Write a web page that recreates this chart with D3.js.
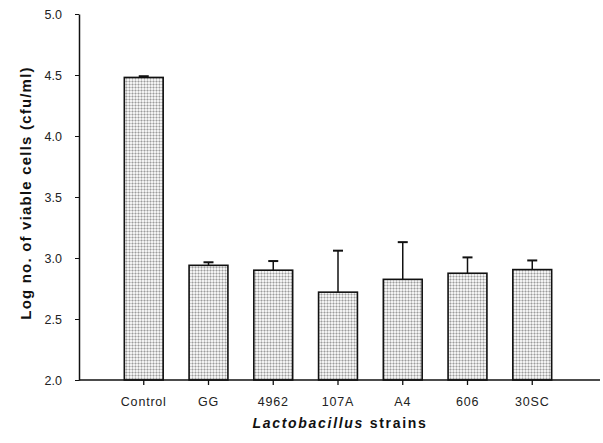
<!DOCTYPE html>
<html>
<head>
<meta charset="utf-8">
<script src="https://cdn.jsdelivr.net/npm/d3@7"></script>
<style>
  body { margin: 0; background: #fff; }
  svg { display: block; font-family: Arial, "Liberation Sans", sans-serif; }
</style>
</head>
<body>
<div id="chart"></div>
<script>
const strains = ['Control', 'GG', '4962', '107A', 'A4', '606', '30SC'];
const means = [4.48, 2.94, 2.90, 2.72, 2.825, 2.875, 2.905];
const errTops = [4.49, 2.965, 2.975, 3.06, 3.13, 3.005, 2.98];
const yTicks = [2.0, 2.5, 3.0, 3.5, 4.0, 4.5, 5.0];

const width = 603;
const height = 443;

const svg = d3.select('#chart')
  .append('svg')
  .attr('width', width)
  .attr('height', height);

// grid-like stipple fill, as in the scanned bars
const defs = svg.append('defs');
const pat = defs.append('pattern')
  .attr('id', 'stipple')
  .attr('width', 3)
  .attr('height', 3)
  .attr('patternUnits', 'userSpaceOnUse');
pat.append('rect').attr('width', 3).attr('height', 3).attr('fill', '#f2f2f2');
pat.append('rect').attr('x', 0).attr('y', 0).attr('width', 3).attr('height', 1).attr('fill', '#cacaca');
pat.append('rect').attr('x', 0).attr('y', 0).attr('width', 1).attr('height', 3).attr('fill', '#cacaca');
pat.append('rect').attr('x', 0).attr('y', 0).attr('width', 1).attr('height', 1).attr('fill', '#9c9c9c');

const left = 79;
const bottom = 380;

const x = d3.scaleBand()
  .domain(strains)
  .range([left, 597])
  .paddingInner(0.4)
  .paddingOuter(0.7);

const y = d3.scaleLinear()
  .domain([2.0, 5.0])
  .range([bottom, 14]);

// Bars
svg.selectAll('rect.bar')
  .data(strains).enter()
  .append('rect')
  .attr('class', 'bar')
  .attr('x', (d) => x(d))
  .attr('y', (d, i) => y(means[i]))
  .attr('width', x.bandwidth())
  .attr('height', (d, i) => y(2.0) - y(means[i]))
  .attr('fill', 'url(#stipple)')
  .attr('stroke', '#111')
  .attr('stroke-width', 1.6);

// Error bars
const err = svg.append('g').attr('stroke', '#111').attr('stroke-width', 1.5);
strains.forEach((s, i) => {
  const cx = x(s) + x.bandwidth() / 2;
  err.append('line')
    .attr('x1', cx).attr('x2', cx)
    .attr('y1', y(means[i])).attr('y2', y(errTops[i]));
  err.append('line')
    .attr('x1', cx - 5).attr('x2', cx + 5)
    .attr('y1', y(errTops[i])).attr('y2', y(errTops[i]))
    .attr('stroke-width', 2);
});

// Y axis
const yAxis = d3.axisLeft(y)
  .tickValues(yTicks)
  .tickFormat(d3.format('.1f'))
  .tickSize(4)
  .tickSizeOuter(0)
  .tickPadding(13);

const yg = svg.append('g')
  .attr('transform', `translate(${left},0)`)
  .call(yAxis);
yg.select('.domain').attr('stroke', '#111').attr('stroke-width', 1.5);
yg.selectAll('.tick line').attr('stroke', '#111');
yg.selectAll('.tick text')
  .attr('font-size', 12.5)
  .attr('font-family', 'Arial, "Liberation Sans", sans-serif')
  .attr('fill', '#222');

// X axis
const xAxis = d3.axisBottom(x)
  .tickSize(5)
  .tickSizeOuter(0)
  .tickPadding(12);

const xg = svg.append('g')
  .attr('transform', `translate(0,${bottom})`)
  .call(xAxis);
xg.select('.domain').remove();
xg.selectAll('.tick line').attr('stroke', '#111').attr('stroke-width', 1.3);
xg.selectAll('.tick text')
  .attr('font-size', 12.5)
  .attr('letter-spacing', 0.8)
  .attr('font-family', 'Arial, "Liberation Sans", sans-serif')
  .attr('fill', '#222');

svg.append('line')
  .attr('x1', left).attr('x2', 600)
  .attr('y1', bottom).attr('y2', bottom)
  .attr('stroke', '#111')
  .attr('stroke-width', 1.5);

// Axis titles
const xt = svg.append('text')
  .attr('x', 340)
  .attr('y', 428)
  .attr('text-anchor', 'middle')
  .attr('font-size', 14)
  .attr('letter-spacing', 1.7)
  .attr('font-weight', 'bold')
  .attr('fill', '#111');
xt.append('tspan').attr('font-style', 'italic').text('Lactobacillus');
xt.append('tspan').text(' strains');

svg.append('text')
  .attr('transform', 'translate(31,193) rotate(-90)')
  .attr('text-anchor', 'middle')
  .attr('font-size', 15)
  .attr('letter-spacing', 1.2)
  .attr('font-weight', 'bold')
  .attr('fill', '#111')
  .text('Log no. of viable cells (cfu/ml)');
</script>
</body>
</html>
